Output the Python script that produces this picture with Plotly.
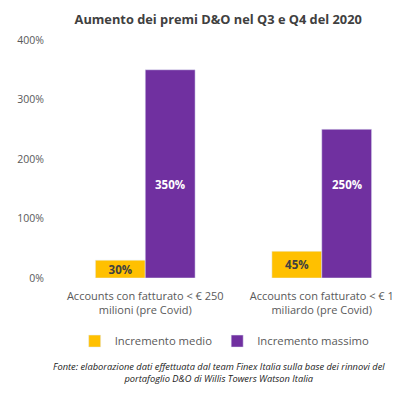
import plotly.graph_objects as go

categories = ["Accounts con fatturato < € 250<br>milioni (pre Covid)",
              "Accounts con fatturato < € 1<br>miliardo (pre Covid)"]
medio = [30, 45]
massimo = [350, 250]
series_names = ["Incremento medio", "Incremento massimo"]
tick_vals = [0, 100, 200, 300, 400]
tick_text = ["0%", "100%", "200%", "300%", "400%"]

LABEL_FONT = dict(family="Open Sans", size=11.5, weight="bold")

fig = go.Figure()
fig.add_trace(go.Bar(x=categories, y=medio, name=series_names[0], marker_color="#FFC000",
                     text=[f"{v}%" for v in medio], textposition="inside",
                     insidetextanchor="middle", constraintext="none",
                     textfont=dict(**LABEL_FONT, color="#404040")))
fig.add_trace(go.Bar(x=categories, y=massimo, name=series_names[1], marker_color="#7030A0"))

# labels of the purple bars sit at a common height (as in the source chart)
for cat, v in zip(categories, massimo):
    fig.add_annotation(x=cat, y=157, xref="x", yref="y", text=f"{v}%", showarrow=False,
                       xshift=25, font=dict(**LABEL_FONT, color="white"))

fig.update_layout(
    width=414, height=396,
    margin=dict(l=57, r=4, t=40, b=118),
    barmode="group", bargap=0.435, bargroupgap=0,
    plot_bgcolor="white", paper_bgcolor="white",
    font=dict(family="Open Sans", color="#595959"),
    title=dict(text="<b>Aumento dei premi D&O nel Q3 e Q4 del 2020</b>",
               x=0.527, xanchor="center", y=0.95, yanchor="middle",
               font=dict(size=12.8, color="#404040")),
    showlegend=True,
    legend=dict(orientation="h", x=0.475, xanchor="center", y=-0.265, yanchor="middle",
                font=dict(size=11.3, color="#595959"), itemwidth=30, traceorder="normal"),
    xaxis=dict(tickfont=dict(size=11, color="#595959"), showline=False, ticks="",
               ticklabelstandoff=10),
    yaxis=dict(range=[0, 400], tickvals=tick_vals, ticktext=tick_text, showgrid=False,
               zeroline=False, tickfont=dict(size=10.5, color="#595959"), ticks="",
               ticklabelstandoff=12),
)

fig.add_annotation(
    text="<i>Fonte: elaborazione dati effettuata dal team Finex Italia sulla base dei rinnovi del<br>"
         "portafoglio D&O di Willis Towers Watson Italia</i>",
    xref="paper", yref="paper", x=0.459, y=-0.395, xanchor="center", yanchor="middle",
    showarrow=False, align="center", font=dict(size=9.3, color="#1a1a1a", family="Open Sans"))

fig.write_html("out.html", config={"displayModeBar": False},
               post_script="document.body.style.margin='0px';")
